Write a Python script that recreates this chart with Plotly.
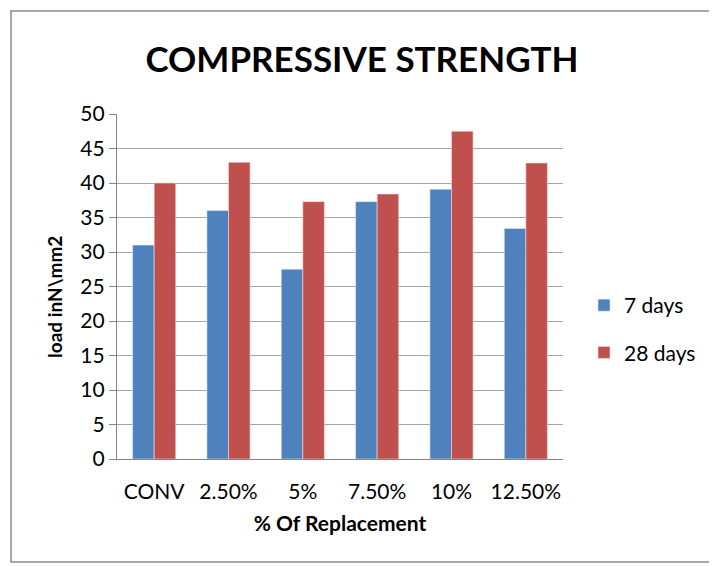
import plotly.graph_objects as go

categories = ["CONV", "2.50%", "5%", "7.50%", "10%", "12.50%"]
days7 = [31.0, 36.0, 27.5, 37.3, 39.1, 33.4]
days28 = [40.0, 43.0, 37.3, 38.4, 47.5, 42.9]
series_names = ["7 days", "28 days"]

# page has an 8px body margin; work in shifted coordinates
OFF = 8
W, H = 717 - OFF, 566 - OFF
L, R, T, B = 117 - OFF, 563 - OFF, 114 - OFF, 459 - OFF
pw, ph = R - L, B - T

def px(x):
    return (x - OFF - L) / pw

def py(y):
    return (B - (y - OFF)) / ph

font_fam = "Lato, 'Open Sans', sans-serif"

fig = go.Figure()
fig.add_trace(go.Bar(x=categories, y=days7, name=series_names[0], legendgroup="a",
                     marker=dict(color="#4F81BD", line=dict(color="#DCE6F2", width=0.6))))
fig.add_trace(go.Bar(x=categories, y=days28, name=series_names[1], legendgroup="b",
                     marker=dict(color="#C0504D", line=dict(color="#F2DCDB", width=0.6))))

fig.update_layout(
    width=W, height=H,
    margin=dict(l=L, r=W - R, t=T, b=H - B, autoexpand=False),
    paper_bgcolor="white", plot_bgcolor="white",
    barmode="group", bargap=0.42, bargroupgap=0,
    font=dict(family=font_fam, size=21, color="black"),
    title=dict(text="<b>COMPRESSIVE STRENGTH</b>", x=(362 - OFF) / W, xanchor="center",
               y=1 - (60 - OFF) / H, yanchor="middle",
               font=dict(family=font_fam, size=35, color="black")),
    xaxis=dict(showline=True, linecolor="#868686", linewidth=1.2, ticks="",
               tickfont=dict(size=21), showgrid=False, ticklabelstandoff=14,
               title=dict(text="<b>% Of Replacement</b>", font=dict(size=21), standoff=14)),
    yaxis=dict(range=[0, 50], dtick=5, showline=True, linecolor="#868686", linewidth=1.2,
               ticks="outside", ticklen=7, tickcolor="#868686",
               showgrid=True, gridcolor="#A6A6A6", gridwidth=1.3,
               tickfont=dict(size=21)),
    legend=dict(x=px(584), y=py(285), xanchor="left", yanchor="top",
                font=dict(size=21), tracegroupgap=17, itemwidth=30,
                bgcolor="rgba(0,0,0,0)"),
    annotations=[dict(text="<b>load inN\\mm2</b>", textangle=-90, xref="paper", yref="paper",
                      x=px(54), y=py(297), xanchor="center", yanchor="middle",
                      showarrow=False, font=dict(size=19, color="black"))],
    shapes=[dict(type="rect", xref="paper", yref="paper",
                 x0=px(11), x1=px(713), y0=py(562), y1=py(11),
                 line=dict(color="#8C8C8C", width=1.5), fillcolor="rgba(0,0,0,0)",
                 layer="below")],
)

fig.write_html("out.html")
